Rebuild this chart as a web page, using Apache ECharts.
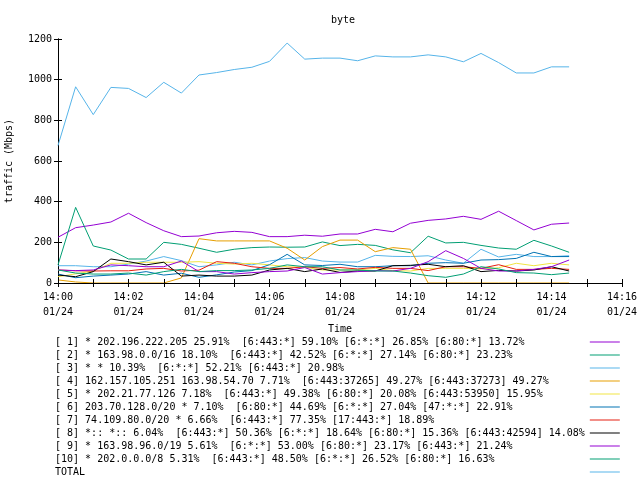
<!DOCTYPE html>
<html>
<head>
<meta charset="utf-8">
<script src="https://cdn.jsdelivr.net/npm/echarts@6/dist/echarts.min.js"></script>
<style>
  html, body { margin: 0; padding: 0; background: #fff; }
  #chart { width: 640px; height: 480px; }
</style>
</head>
<body>
<div id="chart"></div>
<script>
// sample times (every 30 s)
const times = [
  '14:00:00', '14:00:30', '14:01:00', '14:01:30', '14:02:00', '14:02:30',
  '14:03:00', '14:03:30', '14:04:00', '14:04:30', '14:05:00', '14:05:30',
  '14:06:00', '14:06:30', '14:07:00', '14:07:30', '14:08:00', '14:08:30',
  '14:09:00', '14:09:30', '14:10:00', '14:10:30', '14:11:00', '14:11:30',
  '14:12:00', '14:12:30', '14:13:00', '14:13:30', '14:14:00', '14:14:30'
]
const tickLabels = ['14:00', '14:02', '14:04', '14:06', '14:08', '14:10', '14:12', '14:14', '14:16']
const dateLabel = '01/24'

const names = [
  '[ 1] * 202.196.222.205 25.91%  [6:443:*] 59.10% [6:*:*] 26.85% [6:80:*] 13.72%',
  '[ 2] * 163.98.0.0/16 18.10%  [6:443:*] 42.52% [6:*:*] 27.14% [6:80:*] 23.23%',
  '[ 3] * * 10.39%  [6:*:*] 52.21% [6:443:*] 20.98%',
  '[ 4] 162.157.105.251 163.98.54.70 7.71%  [6:443:37265] 49.27% [6:443:37273] 49.27%',
  '[ 5] * 202.21.77.126 7.18%  [6:443:*] 49.38% [6:80:*] 20.08% [6:443:53950] 15.95%',
  '[ 6] 203.70.128.0/20 * 7.10%  [6:80:*] 44.69% [6:*:*] 27.04% [47:*:*] 22.91%',
  '[ 7] 74.109.80.0/20 * 6.66%  [6:443:*] 77.35% [17:443:*] 18.89%',
  '[ 8] *:: *:: 6.04%  [6:443:*] 50.36% [6:*:*] 18.64% [6:80:*] 15.36% [6:443:42594] 14.08%',
  '[ 9] * 163.98.96.0/19 5.61%  [6:*:*] 53.00% [6:80:*] 23.17% [6:443:*] 21.24%',
  '[10] * 202.0.0.0/8 5.31%  [6:443:*] 48.50% [6:*:*] 26.52% [6:80:*] 16.63%',
  'TOTAL'
]
const colors = ['#9400d3', '#009e73', '#56b4e9', '#e69f00', '#f0e442', '#0072b2', '#e51e10', '#000000', '#9400d3', '#009e73', '#56b4e9']

// traffic in Mbps
const s1 = [225, 272, 285, 300, 343, 297, 257, 228, 231, 247, 254, 249, 228, 228, 235, 230, 241, 241, 264, 252, 294, 308, 315, 328, 313, 353, 307, 261, 289, 295]
const s2 = [89, 372, 182, 162, 118, 118, 200, 190, 171, 151, 166, 174, 177, 176, 177, 202, 184, 190, 185, 163, 149, 230, 197, 200, 185, 172, 166, 210, 182, 151]
const s3 = [85, 85, 80, 80, 93, 108, 130, 110, 80, 89, 102, 89, 108, 120, 125, 108, 103, 103, 136, 131, 130, 134, 113, 97, 166, 128, 141, 130, 130, 134]
const s4 = [15, 5, 0, 0, 0, 0, 0, 25, 218, 207, 207, 207, 207, 171, 113, 179, 211, 211, 154, 174, 166, 0, 0, 0, 0, 0, 0, 0, 0, 0]
const s5 = [31, 45, 59, 97, 97, 102, 102, 102, 105, 97, 93, 97, 89, 80, 77, 64, 64, 64, 72, 61, 59, 72, 72, 72, 69, 75, 97, 85, 97, 89]
const s6 = [44, 26, 34, 39, 44, 56, 39, 48, 28, 40, 54, 61, 90, 141, 89, 86, 92, 80, 80, 85, 85, 97, 100, 97, 113, 115, 121, 151, 130, 130]
const s7 = [64, 60, 59, 60, 60, 69, 72, 59, 63, 105, 97, 80, 72, 72, 80, 72, 76, 69, 77, 72, 72, 61, 80, 80, 72, 90, 67, 67, 72, 67]
const s8 = [39, 31, 56, 118, 105, 89, 102, 34, 39, 34, 34, 39, 64, 72, 56, 69, 52, 59, 59, 85, 87, 92, 80, 85, 56, 62, 59, 64, 80, 59]
const s9 = [64, 61, 64, 89, 85, 80, 80, 108, 56, 56, 44, 51, 56, 59, 76, 44, 51, 56, 61, 59, 72, 105, 159, 121, 72, 59, 59, 67, 80, 113]
const s10 = [64, 49, 44, 44, 49, 39, 56, 67, 56, 61, 61, 64, 72, 89, 80, 80, 64, 64, 59, 59, 49, 36, 28, 44, 80, 69, 51, 49, 41, 49]
const total = [676, 965, 828, 962, 957, 912, 987, 934, 1023, 1035, 1050, 1061, 1090, 1180, 1101, 1106, 1106, 1093, 1117, 1112, 1112, 1122, 1112, 1088, 1129, 1084, 1033, 1033, 1063, 1063]
const allSeries = [s1, s2, s3, s4, s5, s6, s7, s8, s9, s10, total]

const FONT = 'DejaVu Sans Mono'

// minutes after 14:00
function toMinutes(t) {
  const p = t.split(':').map(Number)
  return (p[0] - 14) * 60 + p[1] + p[2] / 60
}

function xLabel(v) {
  if (v % 2 !== 0) return ''
  return tickLabels[v / 2] + '\n' + dateLabel
}

const tickStyle = { show: true, inside: true, length: 4, lineStyle: { color: '#000', width: 1 } }
const lineStyle = { show: true, lineStyle: { color: '#000', width: 1 } }

const option = {
  animation: false,
  color: colors,
  title: {
    text: 'byte',
    left: 326,
    top: 10,
    textStyle: { fontFamily: FONT, fontSize: 10, fontWeight: 'normal', color: '#000' }
  },
  grid: { left: 58, right: 18, top: 39, bottom: 197, outerBoundsMode: 'none' },
  // key below the plot: monospace text padded to one width, line sample at right
  legend: {
    orient: 'vertical',
    left: 50,
    top: 330.5,
    height: 150,
    align: 'right',
    icon: 'rect',
    itemWidth: 30,
    itemHeight: 1,
    itemGap: 0,
    selectedMode: false,
    formatter: name => name.padEnd(88, ' '),
    textStyle: { fontFamily: FONT, fontSize: 10, color: '#000', lineHeight: 13 },
    data: names
  },
  xAxis: [
    {
      type: 'value',
      min: 0,
      max: 16,
      interval: 1,
      name: 'Time',
      nameLocation: 'middle',
      nameGap: 41,
      nameTextStyle: { fontFamily: FONT, fontSize: 10, color: '#000' },
      axisLine: lineStyle,
      axisTick: tickStyle,
      splitLine: { show: false },
      axisLabel: {
        formatter: xLabel,
        margin: 7,
        fontFamily: FONT,
        fontSize: 10,
        lineHeight: 15,
        color: '#000',
        showMaxLabel: true
      },
      z: 5
    },
    {
      type: 'value',
      position: 'top',
      min: 0,
      max: 16,
      interval: 1,
      axisLine: lineStyle,
      axisTick: tickStyle,
      axisLabel: { show: false },
      splitLine: { show: false }
    }
  ],
  yAxis: [
    {
      type: 'value',
      min: 0,
      max: 1200,
      interval: 200,
      name: 'traffic (Mbps)',
      nameLocation: 'middle',
      nameGap: 44,
      nameRotate: 90,
      nameTextStyle: { fontFamily: FONT, fontSize: 10, color: '#000' },
      axisLine: lineStyle,
      axisTick: tickStyle,
      splitLine: { show: false },
      axisLabel: { margin: 6, fontFamily: FONT, fontSize: 10, color: '#000', formatter: v => String(v) }
    },
    {
      type: 'value',
      position: 'right',
      min: 0,
      max: 1200,
      interval: 200,
      axisLine: lineStyle,
      axisTick: tickStyle,
      axisLabel: { show: false },
      splitLine: { show: false }
    }
  ],
  series: allSeries.map((vals, i) => ({
    name: names[i],
    type: 'line',
    showSymbol: false,
    symbol: 'none',
    lineStyle: { width: 1, color: colors[i] },
    itemStyle: { color: colors[i] },
    data: vals.map((v, j) => [toMinutes(times[j]), v])
  }))
}

const chart = echarts.init(document.getElementById('chart'), null, { renderer: 'canvas' })
chart.setOption(option)
</script>
</body>
</html>
